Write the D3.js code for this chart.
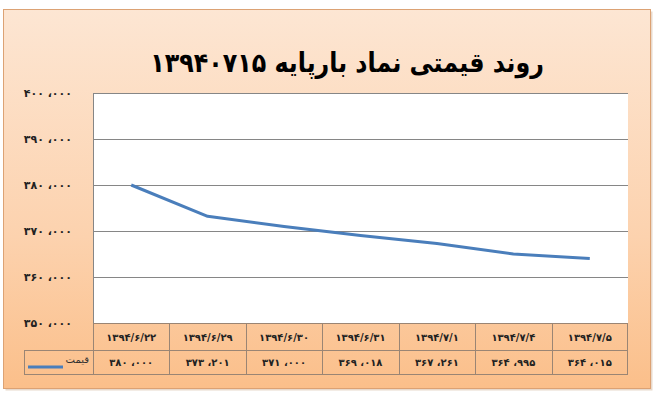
<!DOCTYPE html>
<html>
<head>
<meta charset="utf-8">
<script src="https://cdn.jsdelivr.net/npm/d3@7"></script>
<style>
  body { margin: 0; background: #fff; }
  svg { display: block; }
  text { font-family: "DejaVu Sans", sans-serif; }
</style>
</head>
<body>
<div class="main"></div>
<script>
// chart data
let title = "روند قیمتی نماد بارپایه ۱۳۹۴۰۷۱۵";
let seriesName = "قیمت";
let dates = ["۱۳۹۴/۶/۲۲", "۱۳۹۴/۶/۲۹", "۱۳۹۴/۶/۳۰", "۱۳۹۴/۶/۳۱", "۱۳۹۴/۷/۱", "۱۳۹۴/۷/۴", "۱۳۹۴/۷/۵"];
let prices = [380000, 373201, 371000, 369018, 367261, 364995, 364015];
let yTicks = [350000, 360000, 370000, 380000, 390000, 400000];

// persian digits + arabic comma grouping
function fa(n) {
    let s = d3.format(",")(n).replace(/,/g, " ،");
    return s.replace(/[0-9]/g, c => "۰۱۲۳۴۵۶۷۸۹"[+c]);
}

let width = 660, height = 399;
let svg = d3.select("div.main").append("svg")
    .attr("width", width)
    .attr("height", height);

let defs = svg.append("defs");
let grad = defs.append("linearGradient")
    .attr("id", "bg")
    .attr("x1", 0).attr("y1", 0).attr("x2", 0).attr("y2", 1);
grad.append("stop").attr("offset", "0%").attr("stop-color", "#fde6d3");
grad.append("stop").attr("offset", "60%").attr("stop-color", "#fcd2ae");
grad.append("stop").attr("offset", "100%").attr("stop-color", "#fbbf8a");

// outer chart box
svg.append("rect")
    .attr("x", 5.5).attr("y", 11.5)
    .attr("width", 647).attr("height", 379)
    .attr("fill", "#e8d9cc");
svg.append("rect")
    .attr("x", 3.5).attr("y", 9.5)
    .attr("width", 647).attr("height", 379)
    .attr("fill", "url(#bg)")
    .attr("stroke", "#dca274");

// title, squeezed a bit horizontally
svg.append("text")
    .attr("transform", "translate(347,72) scale(0.88,1)")
    .attr("text-anchor", "middle")
    .attr("font-size", 27)
    .attr("font-weight", "bold")
    .attr("direction", "rtl")
    .attr("fill", "#000")
    .text(title);

// plot area
let pLeft = 93, pRight = 628, pTop = 93, pBottom = 323;
let x = d3.scaleBand().domain(dates).range([pLeft, pRight]);
let y = d3.scaleLinear().domain([350000, 400000]).range([pBottom, pTop]);

svg.append("rect")
    .attr("x", pLeft).attr("y", pTop)
    .attr("width", pRight - pLeft).attr("height", pBottom - pTop)
    .attr("fill", "#fff");

svg.append("g").selectAll("line")
    .data(yTicks)
    .join("line")
    .attr("x1", pLeft).attr("x2", pRight)
    .attr("y1", d => Math.round(y(d)) + 0.5)
    .attr("y2", d => Math.round(y(d)) + 0.5)
    .attr("stroke", "#868686");

svg.append("line")
    .attr("x1", pLeft + 0.5).attr("x2", pLeft + 0.5)
    .attr("y1", pTop).attr("y2", pBottom)
    .attr("stroke", "#868686");

svg.append("g").selectAll("text")
    .data(yTicks)
    .join("text")
    .attr("x", 72)
    .attr("y", d => y(d) + 4)
    .attr("text-anchor", "end")
    .attr("font-size", 11)
    .attr("font-weight", "bold")
    .attr("fill", "#222")
    .text(d => fa(d));

// price line
let line = d3.line()
    .x((d, i) => x(dates[i]) + x.bandwidth() / 2)
    .y(d => y(d));
svg.append("path")
    .datum(prices)
    .attr("d", line)
    .attr("fill", "none")
    .attr("stroke", "#4a7ebb")
    .attr("stroke-width", 3)
    .attr("stroke-linejoin", "round");

// data table below
let rowTop = 323, rowMid = 350, rowBot = 374, legendLeft = 24;
let tbl = svg.append("g").attr("stroke", "#9a8574").attr("fill", "none");
tbl.append("line").attr("x1", pLeft).attr("x2", pRight).attr("y1", rowTop + 0.5).attr("y2", rowTop + 0.5);
tbl.append("line").attr("x1", legendLeft).attr("x2", pRight).attr("y1", rowMid + 0.5).attr("y2", rowMid + 0.5);
tbl.append("line").attr("x1", legendLeft).attr("x2", pRight).attr("y1", rowBot + 0.5).attr("y2", rowBot + 0.5);
tbl.append("line").attr("x1", legendLeft + 0.5).attr("x2", legendLeft + 0.5).attr("y1", rowMid).attr("y2", rowBot);
tbl.selectAll("line.v")
    .data(dates)
    .join("line")
    .attr("class", "v")
    .attr("x1", d => Math.round(x(d)) + 0.5)
    .attr("x2", d => Math.round(x(d)) + 0.5)
    .attr("y1", rowTop).attr("y2", rowBot);
tbl.append("line").attr("x1", pRight - 0.5).attr("x2", pRight - 0.5).attr("y1", rowTop).attr("y2", rowBot);

svg.append("g").selectAll("text")
    .data(dates)
    .join("text")
    .attr("x", d => x(d) + x.bandwidth() / 2)
    .attr("y", (rowTop + rowMid) / 2 + 4)
    .attr("text-anchor", "middle")
    .attr("font-size", 10)
    .attr("font-weight", "bold")
    .attr("fill", "#222")
    .text(d => d);

svg.append("g").selectAll("text")
    .data(prices)
    .join("text")
    .attr("x", (d, i) => x(dates[i]) + x.bandwidth() / 2)
    .attr("y", (rowMid + rowBot) / 2 + 4)
    .attr("text-anchor", "middle")
    .attr("font-size", 10)
    .attr("font-weight", "bold")
    .attr("fill", "#222")
    .text(d => fa(d));

// legend key
svg.append("line")
    .attr("x1", 28).attr("x2", 63)
    .attr("y1", 367).attr("y2", 367)
    .attr("stroke", "#4a7ebb")
    .attr("stroke-width", 3);
svg.append("text")
    .attr("x", 89).attr("y", 363)
    .attr("text-anchor", "start")
    .attr("direction", "rtl")
    .attr("font-size", 10)
    .attr("fill", "#333")
    .text(seriesName);
</script>
</body>
</html>
